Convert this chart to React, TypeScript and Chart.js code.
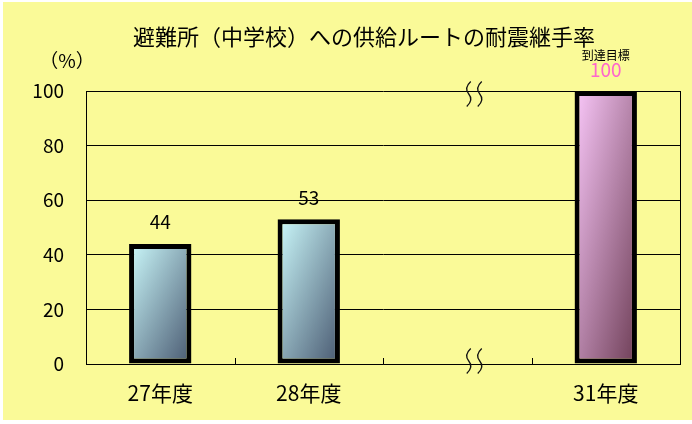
import React, { useEffect, useRef } from 'react';
import { Chart, registerables } from 'chart.js';

Chart.register(...registerables);

const titleText = '避難所（中学校）への供給ルートの耐震継手率';
const unitText = '（%）';
const years = ['27年度', '28年度', '', '31年度'];
const rates: (number | null)[] = [44, 53, null, 100];
const targetIndex = 3;
const targetText = '到達目標';
const breakIndex = 2;
const yTicks = { min: 0, max: 100, step: 20 };

const FONT = "'Noto Sans CJK JP', 'Noto Sans', sans-serif";

const App: React.FC = () => {
  const chartRef = useRef<HTMLCanvasElement | null>(null);
  const chartInstance = useRef<Chart | null>(null);

  useEffect(() => {
    if (!chartRef.current) return;
    if (chartInstance.current) chartInstance.current.destroy();
    const ctx = chartRef.current.getContext('2d');
    if (!ctx) return;

    // diagonal gradient in the bar's own box: top-left light, bottom-right dark
    const barFill = (c: any) => {
      const chart = c.chart;
      const light = c.dataIndex === targetIndex ? '#FAC8FA' : '#CCFAFC';
      const dark = c.dataIndex === targetIndex ? '#6E3E56' : '#485870';
      if (!chart.chartArea || c.type !== 'data' || c.raw == null) return light;
      const xs = chart.scales.x;
      const ys = chart.scales.y;
      const cx = xs.getPixelForValue(c.dataIndex);
      const top = ys.getPixelForValue(c.raw);
      const base = ys.getPixelForValue(0);
      const w = 62;
      const h = base - top;
      const cy = (top + base) / 2;
      const k = (w * h) / (h * h + w * w);
      const g = chart.ctx.createLinearGradient(cx - h * k, cy - w * k, cx + h * k, cy + w * k);
      g.addColorStop(0, light);
      g.addColorStop(1, dark);
      return g;
    };

    const extras = {
      id: 'extras',
      afterDraw(chart: any) {
        const c = chart.ctx as CanvasRenderingContext2D;
        const { right, top, bottom } = chart.chartArea;
        const xs = chart.scales.x;
        c.save();
        // frame right side
        c.strokeStyle = '#000';
        c.lineWidth = 1;
        c.beginPath();
        c.moveTo(right + 0.5, top);
        c.lineTo(right + 0.5, bottom);
        c.stroke();
        // small inner ticks between categories
        for (let i = 1; i < years.length; i++) {
          const x = Math.round((xs.getPixelForValue(i - 1) + xs.getPixelForValue(i)) / 2) + 0.5;
          c.beginPath();
          c.moveTo(x, bottom);
          c.lineTo(x, bottom - 6);
          c.stroke();
        }
        // title and unit
        c.fillStyle = '#000';
        c.textAlign = 'center';
        c.textBaseline = 'middle';
        c.font = `22px ${FONT}`;
        c.fillText(titleText, 361, 35);
        c.font = `19px ${FONT}`;
        c.fillText(unitText, 64, 59);
        // value labels
        const meta = chart.getDatasetMeta(0);
        meta.data.forEach((el: any, i: number) => {
          const v = rates[i];
          if (v == null) return;
          if (i === targetIndex) {
            c.fillStyle = '#000';
            c.font = `12px ${FONT}`;
            c.fillText(targetText, el.x, el.y - 36);
            c.fillStyle = '#FF66CC';
            c.font = `19px ${FONT}`;
            c.fillText(String(v), el.x, el.y - 21);
          } else {
            c.fillStyle = '#000';
            c.font = `19px ${FONT}`;
            c.fillText(String(v), el.x, el.y - 22);
          }
        });
        // axis break marks
        const bx = xs.getPixelForValue(breakIndex) + 17;
        const wave = (cx: number, cy: number) => {
          c.beginPath();
          c.moveTo(cx + 2, cy - 12.5);
          c.quadraticCurveTo(cx - 5, cy - 6, cx, cy);
          c.quadraticCurveTo(cx + 5, cy + 6, cx - 2, cy + 12.5);
          c.stroke();
        };
        c.strokeStyle = '#111';
        c.lineWidth = 1.3;
        [top + 3, bottom - 3].forEach(cy => {
          wave(bx - 5.5, cy);
          wave(bx + 5.5, cy);
        });
        c.restore();
      },
    };

    chartInstance.current = new Chart(ctx, {
      type: 'bar',
      data: {
        labels: years,
        datasets: [
          {
            data: rates,
            backgroundColor: barFill,
            borderColor: '#000',
            borderWidth: 5,
            borderSkipped: false,
            barPercentage: 0.42,
            categoryPercentage: 1,
          },
        ],
      },
      options: {
        animation: false,
        responsive: true,
        maintainAspectRatio: false,
        layout: { padding: { top: 89, right: 12, left: 0, bottom: 0 } },
        plugins: {
          legend: { display: false },
          title: { display: false },
          tooltip: { enabled: false },
        },
        scales: {
          x: {
            grid: { display: false, drawTicks: false },
            border: { display: true, color: '#000', width: 1 },
            ticks: { color: '#000', font: { size: 21, family: FONT }, padding: 16 },
            afterFit: (s: any) => {
              s.height = 56;
            },
          },
          y: {
            min: yTicks.min,
            max: yTicks.max,
            grid: { color: '#000', lineWidth: 1, drawTicks: false },
            border: { display: true, color: '#000', width: 1 },
            ticks: {
              stepSize: yTicks.step,
              color: '#000',
              font: { size: 19, family: FONT },
              padding: 22,
            },
            afterFit: (s: any) => {
              s.width = 83;
            },
          },
        },
      },
      plugins: [extras],
    });

    return () => {
      if (chartInstance.current) {
        chartInstance.current.destroy();
        chartInstance.current = null;
      }
    };
  }, []);

  return (
    <div
      style={{
        position: 'fixed',
        left: 3,
        top: 2,
        width: 689,
        height: 418,
        background: '#FAFA98',
      }}
    >
      <canvas ref={chartRef}></canvas>
    </div>
  );
};

export default App;
